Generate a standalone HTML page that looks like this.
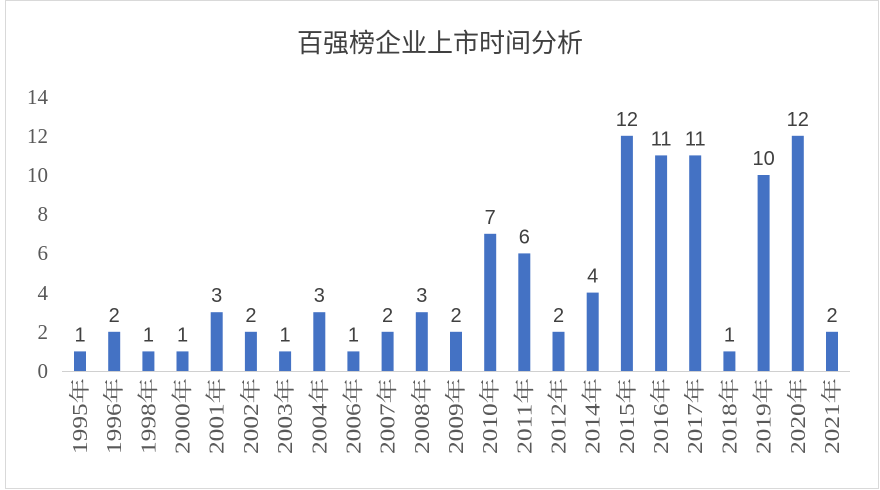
<!DOCTYPE html>
<html><head><meta charset="utf-8"><style>
body{margin:0;background:#fff;}
svg{display:block;}
.b{fill:#4472c4}
.v{font-family:"Liberation Sans",sans-serif;font-size:20px;fill:#404040;text-anchor:middle}
.x{font-family:"Liberation Serif","Noto Serif CJK SC",serif;font-size:21px;fill:#595959;text-anchor:end}
</style></head><body>
<svg width="880" height="490" xmlns="http://www.w3.org/2000/svg">
<rect x="0" y="0" width="880" height="490" fill="#fff"/>
<rect x="5.5" y="0.5" width="873" height="488" fill="none" stroke="#d9d9d9"/>
<text x="440" y="52" text-anchor="middle" font-family="Liberation Sans, Noto Sans CJK SC, sans-serif" font-size="26" fill="#404040">百强榜企业上市时间分析</text>
<g font-family="Liberation Serif, serif" font-size="21" fill="#595959" text-anchor="end">
<text x="48" y="378">0</text><text x="48" y="339">2</text><text x="48" y="300">4</text><text x="48" y="260">6</text><text x="48" y="221">8</text><text x="48" y="182">10</text><text x="48" y="143">12</text><text x="48" y="104">14</text>
</g>
<line x1="62" y1="371.5" x2="850" y2="371.5" stroke="#d0d0d0" stroke-width="1"/>

<rect class="b" x="74" y="351.4" width="12" height="19.6"/><text class="v" x="80" y="341.4">1</text><text class="x" textLength="76" lengthAdjust="spacingAndGlyphs" transform="translate(87,378) rotate(-90)">1995年</text>
<rect class="b" x="108.2" y="331.8" width="12" height="39.2"/><text class="v" x="114.2" y="321.8">2</text><text class="x" textLength="76" lengthAdjust="spacingAndGlyphs" transform="translate(121.2,378) rotate(-90)">1996年</text>
<rect class="b" x="142.4" y="351.4" width="12" height="19.6"/><text class="v" x="148.4" y="341.4">1</text><text class="x" textLength="76" lengthAdjust="spacingAndGlyphs" transform="translate(155.4,378) rotate(-90)">1998年</text>
<rect class="b" x="176.5" y="351.4" width="12" height="19.6"/><text class="v" x="182.5" y="341.4">1</text><text class="x" textLength="76" lengthAdjust="spacingAndGlyphs" transform="translate(189.5,378) rotate(-90)">2000年</text>
<rect class="b" x="210.7" y="312.2" width="12" height="58.8"/><text class="v" x="216.7" y="302.2">3</text><text class="x" textLength="76" lengthAdjust="spacingAndGlyphs" transform="translate(223.7,378) rotate(-90)">2001年</text>
<rect class="b" x="244.9" y="331.8" width="12" height="39.2"/><text class="v" x="250.9" y="321.8">2</text><text class="x" textLength="76" lengthAdjust="spacingAndGlyphs" transform="translate(257.9,378) rotate(-90)">2002年</text>
<rect class="b" x="279.1" y="351.4" width="12" height="19.6"/><text class="v" x="285.1" y="341.4">1</text><text class="x" textLength="76" lengthAdjust="spacingAndGlyphs" transform="translate(292.1,378) rotate(-90)">2003年</text>
<rect class="b" x="313.3" y="312.2" width="12" height="58.8"/><text class="v" x="319.3" y="302.2">3</text><text class="x" textLength="76" lengthAdjust="spacingAndGlyphs" transform="translate(326.3,378) rotate(-90)">2004年</text>
<rect class="b" x="347.4" y="351.4" width="12" height="19.6"/><text class="v" x="353.4" y="341.4">1</text><text class="x" textLength="76" lengthAdjust="spacingAndGlyphs" transform="translate(360.4,378) rotate(-90)">2006年</text>
<rect class="b" x="381.6" y="331.8" width="12" height="39.2"/><text class="v" x="387.6" y="321.8">2</text><text class="x" textLength="76" lengthAdjust="spacingAndGlyphs" transform="translate(394.6,378) rotate(-90)">2007年</text>
<rect class="b" x="415.8" y="312.2" width="12" height="58.8"/><text class="v" x="421.8" y="302.2">3</text><text class="x" textLength="76" lengthAdjust="spacingAndGlyphs" transform="translate(428.8,378) rotate(-90)">2008年</text>
<rect class="b" x="450" y="331.8" width="12" height="39.2"/><text class="v" x="456" y="321.8">2</text><text class="x" textLength="76" lengthAdjust="spacingAndGlyphs" transform="translate(463,378) rotate(-90)">2009年</text>
<rect class="b" x="484.2" y="233.8" width="12" height="137.2"/><text class="v" x="490.2" y="223.8">7</text><text class="x" textLength="76" lengthAdjust="spacingAndGlyphs" transform="translate(497.2,378) rotate(-90)">2010年</text>
<rect class="b" x="518.3" y="253.4" width="12" height="117.6"/><text class="v" x="524.3" y="243.4">6</text><text class="x" textLength="76" lengthAdjust="spacingAndGlyphs" transform="translate(531.3,378) rotate(-90)">2011年</text>
<rect class="b" x="552.5" y="331.8" width="12" height="39.2"/><text class="v" x="558.5" y="321.8">2</text><text class="x" textLength="76" lengthAdjust="spacingAndGlyphs" transform="translate(565.5,378) rotate(-90)">2012年</text>
<rect class="b" x="586.7" y="292.6" width="12" height="78.4"/><text class="v" x="592.7" y="282.6">4</text><text class="x" textLength="76" lengthAdjust="spacingAndGlyphs" transform="translate(599.7,378) rotate(-90)">2014年</text>
<rect class="b" x="620.9" y="135.8" width="12" height="235.2"/><text class="v" x="626.9" y="125.8">12</text><text class="x" textLength="76" lengthAdjust="spacingAndGlyphs" transform="translate(633.9,378) rotate(-90)">2015年</text>
<rect class="b" x="655.1" y="155.4" width="12" height="215.6"/><text class="v" x="661.1" y="145.4">11</text><text class="x" textLength="76" lengthAdjust="spacingAndGlyphs" transform="translate(668.1,378) rotate(-90)">2016年</text>
<rect class="b" x="689.2" y="155.4" width="12" height="215.6"/><text class="v" x="695.2" y="145.4">11</text><text class="x" textLength="76" lengthAdjust="spacingAndGlyphs" transform="translate(702.2,378) rotate(-90)">2017年</text>
<rect class="b" x="723.4" y="351.4" width="12" height="19.6"/><text class="v" x="729.4" y="341.4">1</text><text class="x" textLength="76" lengthAdjust="spacingAndGlyphs" transform="translate(736.4,378) rotate(-90)">2018年</text>
<rect class="b" x="757.6" y="175" width="12" height="196"/><text class="v" x="763.6" y="165">10</text><text class="x" textLength="76" lengthAdjust="spacingAndGlyphs" transform="translate(770.6,378) rotate(-90)">2019年</text>
<rect class="b" x="791.8" y="135.8" width="12" height="235.2"/><text class="v" x="797.8" y="125.8">12</text><text class="x" textLength="76" lengthAdjust="spacingAndGlyphs" transform="translate(804.8,378) rotate(-90)">2020年</text>
<rect class="b" x="826" y="331.8" width="12" height="39.2"/><text class="v" x="832" y="321.8">2</text><text class="x" textLength="76" lengthAdjust="spacingAndGlyphs" transform="translate(839,378) rotate(-90)">2021年</text>
</svg>
</body></html>
